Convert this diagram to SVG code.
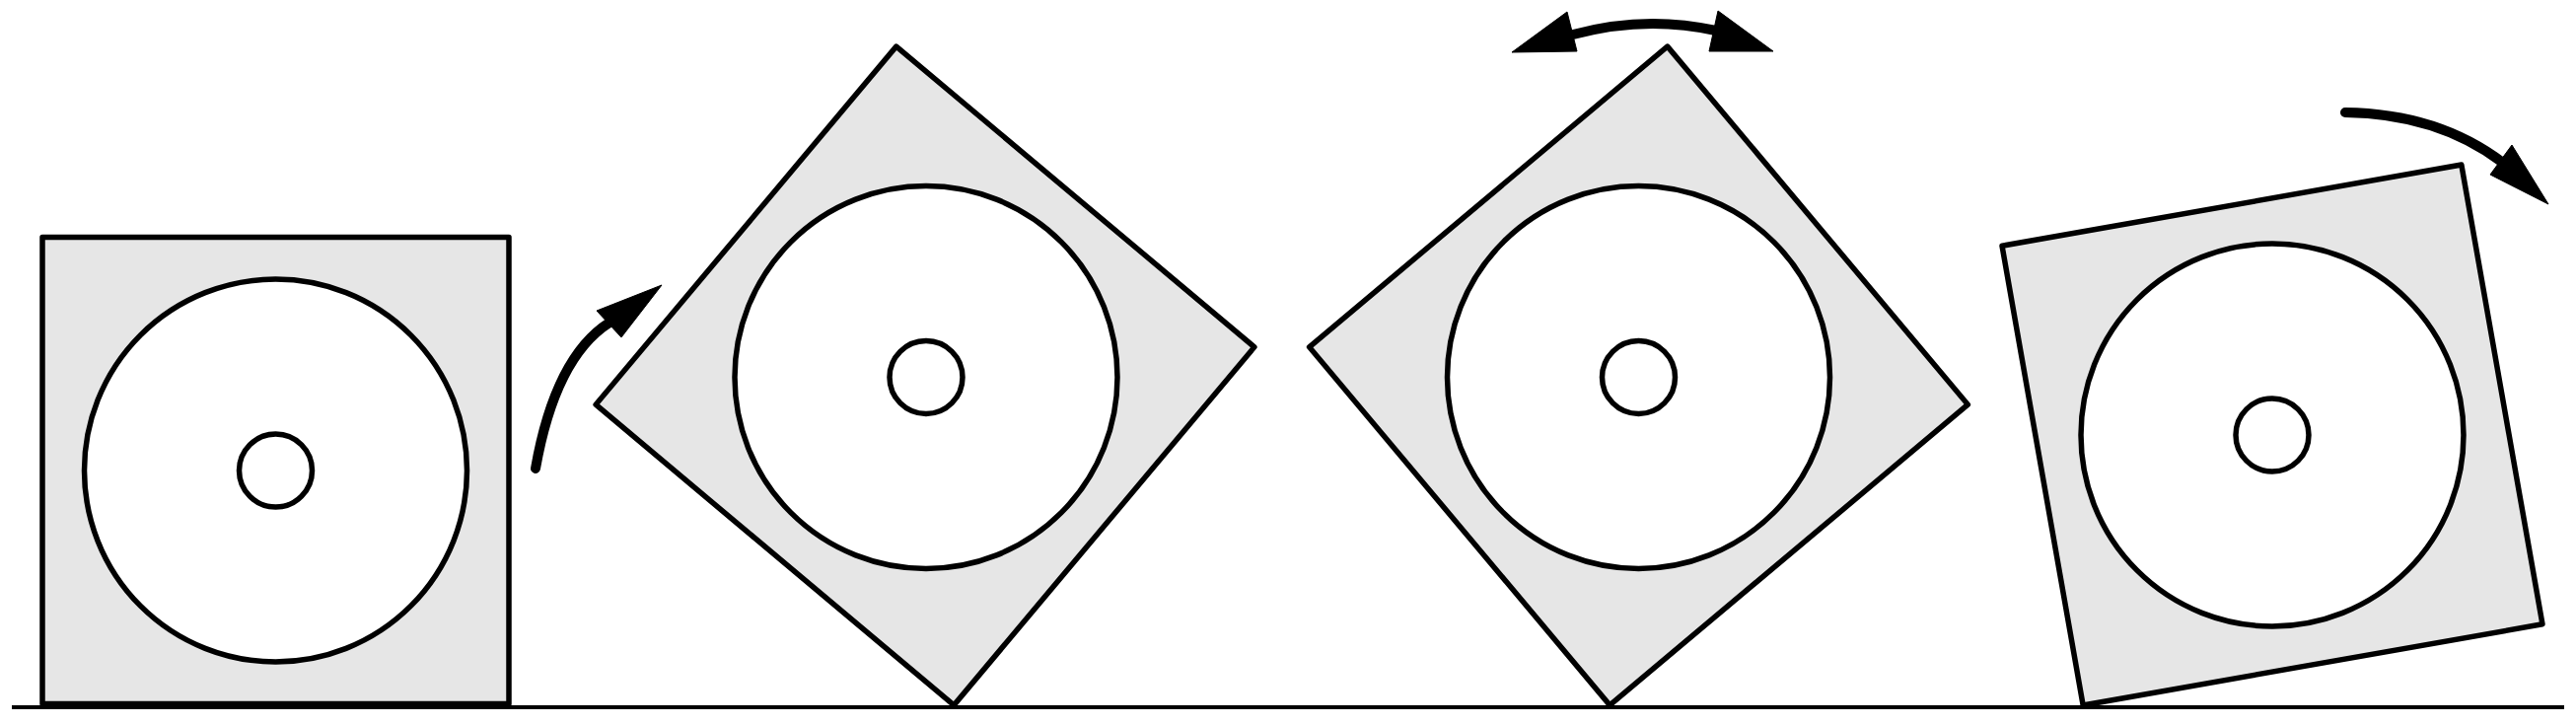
<svg xmlns="http://www.w3.org/2000/svg" width="2612" height="735" viewBox="0 0 2612 735">
<style>
.sq{fill:#e6e6e6;stroke:#000;stroke-width:5.5;stroke-linejoin:round}
.disc{fill:#fff;stroke:#000;stroke-width:5.5}
.shaft{fill:none;stroke:#000;stroke-width:10;stroke-linecap:round}
.head{fill:#000;stroke:#000;stroke-width:1;stroke-linejoin:miter}
</style>
<rect width="2612" height="735" fill="#fff"/>
<g id="ground"><line x1="12" y1="717" x2="2600" y2="717" stroke="#000" stroke-width="4"/></g>
<g id="square1" transform="translate(279.5,477)">
<rect class="sq" x="-236.5" y="-236.5" width="473" height="473"/>
<circle class="disc" r="194"/>
<circle class="disc" r="37"/>
</g>
<g id="square2" transform="translate(938,381)">
<rect class="sq" x="-237" y="-237" width="474" height="474" transform="rotate(40)"/>
<circle class="disc" cx="1" cy="1.5" r="194"/>
<circle class="disc" cx="1" cy="1.5" r="37"/>
</g>
<g id="square3" transform="translate(1661.5,381)">
<rect class="sq" x="-237" y="-237" width="474" height="474" transform="rotate(-40)"/>
<circle class="disc" cy="1.5" r="194"/>
<circle class="disc" cy="1.5" r="37"/>
</g>
<g id="square4" transform="translate(2304,441)">
<rect class="sq" x="-236.5" y="-236.5" width="473" height="473" transform="rotate(-10)"/>
<circle class="disc" r="194"/>
<circle class="disc" r="37"/>
</g>
<g id="connectors">
<g id="arrow1">
<path class="shaft" d="M543,475 Q563,362 618,327"/>
<polygon class="head" points="671,289 605,315 630,342"/>
</g>
<g id="arrow2">
<path class="shaft" d="M1595,35 Q1668,15 1740,31"/>
<polygon class="head" points="1533,53 1589,12 1599,52"/>
<polygon class="head" points="1798,52 1742,11 1733,52"/>
</g>
<g id="arrow3">
<path class="shaft" d="M2378,114 Q2472,115 2538,165"/>
<polygon class="head" points="2584,207 2547,147 2525,177"/>
</g>
</g>
</svg>
